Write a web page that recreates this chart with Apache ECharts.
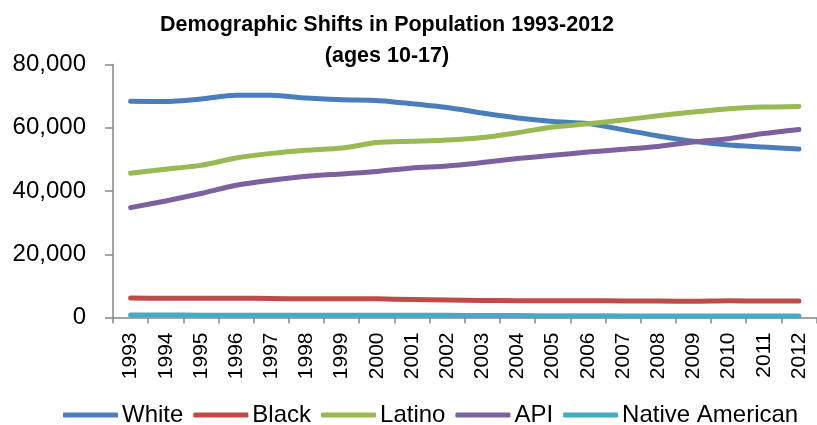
<!DOCTYPE html>
<html>
<head>
<meta charset="utf-8">
<script src="https://cdn.jsdelivr.net/npm/echarts@6/dist/echarts.min.js"></script>
<style>
html,body{margin:0;padding:0;background:#fff;}
#chart{width:817px;height:425px;}
</style>
</head>
<body>
<div id="chart"></div>
<script>
var years = ['1993','1994','1995','1996','1997','1998','1999','2000','2001','2002','2003','2004','2005','2006','2007','2008','2009','2010','2011','2012'];
var white = [68350, 68300, 69100, 70250, 70250, 69400, 68850, 68650, 67600, 66400, 64650, 63100, 62000, 61300, 59400, 57400, 55700, 54550, 53900, 53250];
var black = [6130, 6050, 6050, 6100, 6000, 5950, 5950, 5900, 5700, 5550, 5400, 5300, 5300, 5300, 5250, 5200, 5150, 5300, 5200, 5200];
var latino = [45600, 46900, 48100, 50450, 51900, 52900, 53600, 55300, 55700, 56100, 56900, 58450, 60250, 61250, 62450, 63800, 64970, 66000, 66550, 66750];
var api = [34750, 36850, 39200, 41800, 43400, 44650, 45400, 46150, 47300, 47900, 49000, 50250, 51300, 52300, 53200, 54100, 55500, 56550, 58150, 59450];
var nativeAm = [760, 760, 750, 740, 730, 720, 720, 710, 700, 680, 650, 600, 560, 530, 500, 470, 440, 450, 460, 460];
var seriesNames = ['White', 'Black', 'Latino', 'API', 'Native American'];
var colors = ['#4A7EBB', '#BE4B48', '#98B954', '#7D60A0', '#46AAC5'];
var yTicks = [0, 20000, 40000, 60000, 80000];

var FONT = 'Liberation Sans';
var chart = echarts.init(document.getElementById('chart'));
var dataSets = [white, black, latino, api, nativeAm];
chart.setOption({
  animation: false,
  color: colors,
  textStyle: { fontFamily: FONT },
  title: {
    text: 'Demographic Shifts in Population 1993-2012\n(ages 10-17)',
    left: 387, top: 10, padding: 0,
    textAlign: 'center',
    textStyle: { fontFamily: FONT, fontSize: 21.5, fontWeight: 'bold', color: '#000', lineHeight: 31 }
  },
  legend: {
    data: seriesNames,
    left: 63, top: 403, padding: 0,
    icon: 'roundRect',
    itemWidth: 55, itemHeight: 5, itemGap: 10,
    textStyle: { fontFamily: FONT, fontSize: 24, color: '#000', padding: [0, 0, 0, -1] }
  },
  grid: { left: 113, right: 0.5, top: 64.5, bottom: 107.5, containLabel: false },
  xAxis: {
    type: 'category',
    data: years,
    boundaryGap: true,
    axisLine: { lineStyle: { color: '#868686', width: 1.5 } },
    axisTick: { show: true, length: 6, lineStyle: { color: '#868686', width: 1.5 } },
    axisLabel: { rotate: 90, margin: 15, fontFamily: FONT, fontSize: 21, color: '#000', interval: 0 },
    splitLine: { show: false }
  },
  yAxis: {
    type: 'value',
    min: yTicks[0], max: yTicks[yTicks.length - 1], interval: 20000,
    axisLine: { show: true, lineStyle: { color: '#868686', width: 1.5 } },
    axisTick: { show: true, length: 8, lineStyle: { color: '#868686', width: 1.5 } },
    axisLabel: {
      margin: 27, fontFamily: FONT, fontSize: 24, color: '#000',
      formatter: function (v) { return v.toLocaleString('en-US'); }
    },
    splitLine: { show: false }
  },
  series: seriesNames.map(function (n, i) {
    return {
      name: n, type: 'line', data: dataSets[i],
      showSymbol: false, symbol: 'none',
      smooth: 0.25,
      lineStyle: { width: 5, color: colors[i], cap: 'round', join: 'round' },
      itemStyle: { color: colors[i] }
    };
  })
});
</script>
</body>
</html>
